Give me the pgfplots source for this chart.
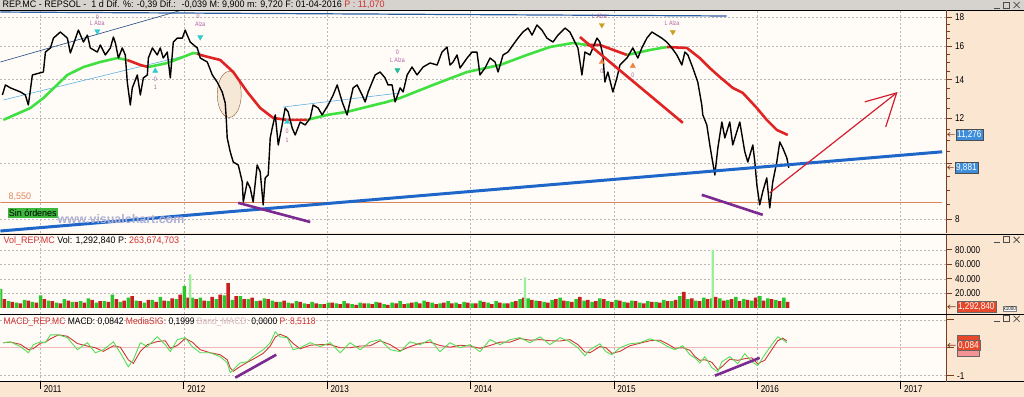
\documentclass[border=0pt]{standalone}
\usepackage{pgfplots}
\pgfplotsset{compat=1.18}
\usepackage{pgfplotstable}
\usetikzlibrary{arrows.meta,shapes.geometric}
\usepackage{fontspec}
\setmainfont{Liberation Sans}
\newfontfamily\cf[FakeStretch=0.82]{Liberation Sans}
\newfontfamily\hf[FakeStretch=0.95]{Liberation Sans}
\newfontfamily\mf[FakeStretch=0.9]{Liberation Sans}
\definecolor{peach}{HTML}{FBE6D2}
\definecolor{plotbg}{HTML}{FFFCF8}
\definecolor{hdr}{HTML}{D6D3CE}
\definecolor{axbrown}{HTML}{7A3B1E}
\definecolor{maG}{HTML}{3FE03F}
\definecolor{maR}{HTML}{E02424}
\definecolor{arR}{HTML}{D41E30}
\definecolor{supblue}{HTML}{1F66C9}
\definecolor{purp}{HTML}{7A2A90}
\definecolor{salmon}{HTML}{E0845A}
\definecolor{gridc}{HTML}{B8B8B8}
\definecolor{volG}{HTML}{2BC62B}
\definecolor{volR}{HTML}{C81E1E}
\definecolor{volL}{HTML}{9AF09A}
\definecolor{lblue}{HTML}{3E8EDB}
\definecolor{lred}{HTML}{E8482A}
\definecolor{txtr}{HTML}{D03030}
\definecolor{bandc}{HTML}{D8B8B8}
\definecolor{mauve}{HTML}{B060A0}
\definecolor{cyanm}{HTML}{33CCCC}
\definecolor{tealm}{HTML}{22BB99}
\definecolor{dyel}{HTML}{C8A020}
\definecolor{orm}{HTML}{F08040}
\definecolor{topl}{HTML}{2A5CA0}
\definecolor{thinb}{HTML}{60B0E0}
\definecolor{pinkl}{HTML}{F0B8B8}
\definecolor{ellf}{HTML}{F6E8D6}
\definecolor{wmark}{HTML}{AEB0D4}
\definecolor{macdG}{HTML}{55DD55}
\definecolor{sinG}{HTML}{3DB83D}

\pgfplotstableread{
t p
2010.735 13.17
2010.756 13.71
2010.791 13.55
2010.826 13.44
2010.861 13.33
2010.895 13.17
2010.916 12.65
2010.944 14.27
2011.021 14.44
2011.035 15.64
2011.070 15.90
2011.091 16.54
2011.139 16.95
2011.188 16.54
2011.209 15.58
2011.265 17.08
2011.300 16.28
2011.328 16.74
2011.348 15.90
2011.397 15.64
2011.418 16.09
2011.453 15.46
2011.488 15.90
2011.509 16.61
2011.523 16.22
2011.544 15.27
2011.571 15.90
2011.592 15.46
2011.606 13.87
2011.627 12.65
2011.641 13.55
2011.676 14.27
2011.697 13.17
2011.718 14.10
2011.746 14.27
2011.753 15.27
2011.781 15.90
2011.815 15.46
2011.836 15.90
2011.857 15.27
2011.885 15.64
2011.906 14.10
2011.927 16.28
2011.955 16.54
2011.990 16.54
2012.010 17.08
2012.024 16.74
2012.045 16.28
2012.094 15.90
2012.115 15.27
2012.164 15.03
2012.199 14.27
2012.233 13.87
2012.268 13.33
2012.289 12.76
2012.296 12.01
2012.303 11.09
2012.324 10.49
2012.345 10.07
2012.380 9.95
2012.408 9.30
2012.415 8.58
2012.443 9.30
2012.463 9.08
2012.484 8.58
2012.512 9.95
2012.533 9.68
2012.554 8.48
2012.568 9.45
2012.589 9.56
2012.603 11.09
2012.617 11.54
2012.638 12.16
2012.659 10.78
2012.686 11.68
2012.707 12.50
2012.728 12.31
2012.756 11.54
2012.777 11.22
2012.812 11.82
2012.847 11.68
2012.882 12.01
2012.902 12.65
2012.937 12.50
2012.965 12.16
2013.007 12.65
2013.042 13.17
2013.070 13.71
2013.105 12.81
2013.139 12.16
2013.181 13.55
2013.209 13.71
2013.244 13.17
2013.265 12.81
2013.286 13.33
2013.314 13.87
2013.335 14.27
2013.369 14.44
2013.404 14.10
2013.425 13.71
2013.453 13.71
2013.474 12.81
2013.509 13.55
2013.530 13.33
2013.558 14.27
2013.592 14.73
2013.627 14.27
2013.669 14.73
2013.718 14.97
2013.767 14.85
2013.801 15.64
2013.836 15.96
2013.857 14.85
2013.878 15.03
2013.906 15.46
2013.927 14.67
2013.976 15.27
2014.011 15.64
2014.045 15.64
2014.066 14.27
2014.101 14.67
2014.136 15.27
2014.171 15.03
2014.192 14.44
2014.227 15.46
2014.261 15.64
2014.296 16.09
2014.331 16.54
2014.366 16.95
2014.401 17.22
2014.429 16.74
2014.463 17.43
2014.498 17.08
2014.533 16.54
2014.575 16.28
2014.610 16.74
2014.659 17.22
2014.693 16.95
2014.714 16.54
2014.749 15.90
2014.777 14.27
2014.798 15.64
2014.833 15.46
2014.882 16.54
2014.902 16.28
2014.923 15.46
2014.937 13.87
2014.958 14.44
2014.993 13.33
2015.021 14.10
2015.042 14.85
2015.091 15.27
2015.132 15.90
2015.167 15.27
2015.195 15.90
2015.230 16.54
2015.265 16.95
2015.300 16.74
2015.334 16.54
2015.369 16.28
2015.404 15.90
2015.439 15.46
2015.474 14.85
2015.495 15.64
2015.516 15.46
2015.551 14.67
2015.585 13.87
2015.613 12.65
2015.620 12.16
2015.648 11.68
2015.669 10.78
2015.704 9.56
2015.725 10.65
2015.753 11.82
2015.774 11.09
2015.808 11.82
2015.829 10.78
2015.878 11.82
2015.913 10.49
2015.934 10.07
2015.969 10.78
2015.983 10.07
2015.997 9.19
2016.017 8.48
2016.038 8.94
2016.066 9.45
2016.087 8.38
2016.108 9.30
2016.136 10.07
2016.157 10.91
2016.178 10.65
2016.206 10.24
2016.220 9.84
}\price

\pgfplotstableread{
t g r
2010.735 26000 12000
2010.791 9000 8000
2010.847 7000 6000
2010.903 11000 10000
2010.958 8000 7000
2011.014 17000 12000
2011.070 10000 9000
2011.126 7000 6000
2011.181 12000 10000
2011.237 8000 8000
2011.293 9000 7000
2011.348 13000 11000
2011.404 7000 9000
2011.460 9000 8000
2011.516 18000 12000
2011.571 8000 10000
2011.627 14000 16000
2011.683 10000 9000
2011.739 7000 11000
2011.794 11000 8000
2011.850 15000 10000
2011.906 9000 13000
2011.962 12000 18000
2012.017 30000 14000
2012.073 14000 12000
2012.129 14000 10000
2012.185 9000 15000
2012.240 12000 18000
2012.296 17000 34000
2012.352 11000 16000
2012.408 16000 12000
2012.463 12000 14000
2012.519 9000 10000
2012.575 13000 12000
2012.631 10000 8000
2012.686 8000 10000
2012.742 7000 6000
2012.798 9000 8000
2012.854 6000 5000
2012.909 8000 6000
2012.965 5000 5000
2013.021 7000 7000
2013.077 6000 5000
2013.132 9000 6000
2013.188 5000 4000
2013.244 7000 6000
2013.300 6000 5000
2013.355 8000 7000
2013.411 5000 4000
2013.467 7000 6000
2013.523 9000 5000
2013.578 6000 7000
2013.634 8000 6000
2013.690 10000 8000
2013.746 7000 5000
2013.801 6000 7000
2013.857 9000 6000
2013.913 7000 5000
2013.969 8000 7000
2014.024 6000 6000
2014.080 10000 8000
2014.136 7000 5000
2014.192 9000 7000
2014.247 6000 6000
2014.303 8000 9000
2014.359 12000 14000
2014.415 13000 11000
2014.470 10000 9000
2014.526 8000 7000
2014.582 11000 12000
2014.638 14000 10000
2014.693 9000 8000
2014.749 12000 15000
2014.805 10000 11000
2014.861 8000 9000
2014.916 13000 12000
2014.972 9000 8000
2015.028 11000 10000
2015.084 8000 7000
2015.139 10000 9000
2015.195 7000 6000
2015.251 9000 8000
2015.307 8000 7000
2015.362 11000 9000
2015.418 9000 11000
2015.474 16000 22000
2015.530 12000 13000
2015.585 10000 9000
2015.641 14000 12000
2015.697 13000 15000
2015.753 13000 10000
2015.808 11000 12000
2015.864 15000 9000
2015.920 12000 11000
2015.976 10000 14000
2016.031 16000 10000
2016.087 13000 12000
2016.143 11000 9000
2016.199 14000 8000
}\vol

\pgfplotstableread{
t m s
2010.742 0.18 0.18
2010.791 0.21 0.20
2010.861 0.04 0.12
2010.916 -0.18 -0.07
2010.951 0.11 -0.03
2011.000 0.21 0.16
2011.035 0.18 0.20
2011.070 0.46 0.32
2011.125 0.46 0.46
2011.188 0.36 0.41
2011.258 -0.07 0.15
2011.328 0.18 0.06
2011.383 -0.18 0.00
2011.439 -0.07 -0.13
2011.509 0.21 0.07
2011.557 -0.18 0.02
2011.613 -0.68 -0.43
2011.648 -0.43 -0.56
2011.697 0.18 -0.13
2011.746 0.04 0.11
2011.815 0.39 0.22
2011.871 0.11 0.25
2011.906 -0.14 -0.02
2011.955 0.29 0.08
2012.010 0.36 0.33
2012.059 0.04 0.20
2012.115 -0.18 -0.07
2012.185 -0.18 -0.18
2012.254 -0.32 -0.25
2012.303 -0.54 -0.43
2012.324 -0.89 -0.72
2012.345 -0.79 -0.84
2012.394 -0.54 -0.67
2012.443 -0.50 -0.52
2012.484 -0.32 -0.41
2012.554 -0.07 -0.20
2012.603 0.18 0.06
2012.638 0.57 0.38
2012.672 0.39 0.48
2012.721 0.36 0.38
2012.763 -0.07 0.15
2012.812 0.00 -0.04
2012.882 0.18 0.09
2012.951 0.04 0.11
2013.021 0.18 0.11
2013.091 -0.18 0.00
2013.160 0.18 0.00
2013.230 -0.07 0.06
2013.300 0.21 0.07
2013.369 0.29 0.25
2013.439 -0.07 0.11
2013.509 -0.14 -0.11
2013.578 0.21 0.04
2013.648 0.11 0.16
2013.718 0.29 0.20
2013.787 -0.14 0.08
2013.857 0.18 0.02
2013.927 0.00 0.09
2013.997 0.11 0.06
2014.066 -0.14 -0.02
2014.136 0.29 0.08
2014.206 0.11 0.20
2014.275 0.29 0.20
2014.345 0.36 0.33
2014.415 0.18 0.27
2014.484 0.39 0.29
2014.554 0.11 0.25
2014.624 0.36 0.24
2014.693 0.21 0.29
2014.749 0.00 0.11
2014.798 -0.29 -0.15
2014.833 -0.07 -0.18
2014.902 0.14 0.04
2014.944 -0.14 0.00
2014.986 -0.25 -0.20
2015.042 0.00 -0.13
2015.111 0.14 0.07
2015.181 0.18 0.16
2015.251 0.32 0.25
2015.321 0.21 0.27
2015.376 0.04 0.13
2015.425 -0.07 -0.02
2015.481 0.07 0.00
2015.530 -0.25 -0.09
2015.564 -0.36 -0.31
2015.599 -0.54 -0.45
2015.634 -0.32 -0.43
2015.683 -0.71 -0.52
2015.725 -0.86 -0.79
2015.753 -0.50 -0.68
2015.808 -0.32 -0.41
2015.864 -0.57 -0.45
2015.913 -0.21 -0.39
2015.962 -0.50 -0.36
2016.003 -0.64 -0.57
2016.052 -0.25 -0.45
2016.101 0.11 -0.07
2016.143 0.39 0.25
2016.178 0.29 0.34
2016.206 0.18 0.24
}\macd

\pgfplotsset{
 panel/.style={
  scale only axis, width=947bp,
  xmin=2010.721, xmax=2017.321,
  axis line style={draw=none},
  xtick={2011,2012,2013,2014,2015,2016,2017}, xticklabels={},
  tick align=outside,
  xtick style={draw=none},
  ytick pos=right, yticklabel pos=right,
  ytick style={draw=axbrown, line width=0.6bp},
  major tick length=5bp, minor tick length=3bp,
  grid=major,
  major grid style={draw=gridc, dash pattern=on 2bp off 2bp, line width=0.5bp},
  yticklabel style={font=\cf\fontsize{10}{10}\selectfont, anchor=west, text=black},
  scaled y ticks=false,
 }
}

\begin{document}
\begin{tikzpicture}
\begin{scope}[x=1bp,y=1bp]
\fill[peach] (0,0) rectangle (1024,397);
\fill[plotbg] (0,164) rectangle (947,387);
\fill[plotbg] (0,83) rectangle (947,162);
\fill[plotbg] (0,15) rectangle (947,82);
\fill[hdr] (0,387) rectangle (1024,397);
\end{scope}

% ---------------- price panel
\begin{axis}[panel, at={(0bp,164bp)}, anchor=south west, height=223bp,
  ymode=log, ymin=7.585, ymax=18.51,
  ytick={8,10,12,14,16,18}, yticklabels={8,{},12,14,16,18},
  minor ytick={8.5,9,9.5,10.5,11,11.5,12.5,13,13.5,14.5,15,15.5,16.5,17,17.5}]
\addplot[salmon, line width=0.8bp] coordinates {(2010.721,8.55)(2017.29,8.55)};
\addplot[topl, line width=1.2bp] coordinates {(2010.721,18.36)(2015.787,18.07)};
\addplot[topl!80!black, line width=0.6bp] coordinates {(2010.721,15.03)(2011.990,18.51)};
\addplot[thinb, line width=0.6bp] coordinates {(2010.742,12.91)(2012.115,15.64)};
\addplot[thinb, line width=0.6bp] coordinates {(2012.693,12.55)(2013.509,13.28)};
\node[ellipse, draw=brown!70!black, line width=0.4bp, fill=ellf, minimum width=24bp, minimum height=46bp, inner sep=0] at (axis cs:2012.317,13.2) {};
% moving average
\addplot[maG, line width=2.6bp] coordinates {(2010.742,11.92)(2010.930,12.50)(2011.021,13.01)(2011.188,14.27)(2011.300,14.73)(2011.418,15.03)(2011.537,15.27)(2011.606,15.15)};
\addplot[maR, line width=2.6bp] coordinates {(2011.606,15.15)(2011.697,14.85)(2011.753,14.73)};
\addplot[maG, line width=2.6bp] coordinates {(2011.753,14.73)(2011.885,14.97)(2011.976,15.27)(2012.066,15.58)(2012.094,15.55)};
\addplot[maR, line width=2.6bp] coordinates {(2012.094,15.55)(2012.115,15.46)(2012.254,15.15)(2012.345,14.44)(2012.443,13.33)(2012.533,12.50)(2012.624,12.01)(2012.721,11.92)(2012.861,11.92)};
\addplot[maG, line width=2.6bp] coordinates {(2012.861,11.92)(2013.000,12.16)(2013.139,12.31)(2013.279,12.56)(2013.418,12.81)(2013.509,13.01)(2013.739,13.71)(2013.976,14.44)(2014.206,14.85)(2014.394,15.46)(2014.554,15.96)(2014.714,16.22)(2014.812,16.09)};
\addplot[maR, line width=2.6bp] coordinates {(2014.812,16.09)(2014.902,16.09)(2015.091,15.46)};
\addplot[maG, line width=2.6bp] coordinates {(2015.091,15.46)(2015.251,15.77)(2015.369,15.96)};
\addplot[maR, line width=2.6bp] coordinates {(2015.369,15.96)(2015.509,15.90)(2015.599,15.27)(2015.669,14.67)(2015.739,14.15)(2015.829,13.55)(2015.899,13.28)(2015.997,12.50)(2016.066,11.92)(2016.136,11.45)(2016.213,11.22)};
% price
\addplot[black, line width=1.4bp, line join=round] table[x=t, y=p] {\price};
% drawings
\addplot[supblue, line width=3bp] coordinates {(2010.721,7.64)(2017.29,10.49)};
\addplot[maR, line width=2.6bp] coordinates {(2014.763,16.61)(2015.481,11.78)};
\addplot[purp, line width=2.6bp] coordinates {(2012.380,8.55)(2012.882,7.92)};
\addplot[purp, line width=2.6bp] coordinates {(2015.613,8.83)(2016.038,8.15)};
\addplot[arR, line width=1.2bp] coordinates {(2016.087,8.90)(2016.972,13.28)};
\addplot[arR, line width=1.2bp] coordinates {(2016.749,12.81)(2016.972,13.28)(2016.896,11.59)};
% signals
\addplot[only marks, mark=triangle*, mark size=3bp, color=cyanm, mark options={rotate=180}] coordinates {(2011.397,17.0)(2012.115,16.6)};
\addplot[only marks, mark=triangle*, mark size=3bp, color=tealm, mark options={rotate=180}] coordinates {(2013.49,14.55)};
\addplot[only marks, mark=triangle*, mark size=3bp, color=cyanm] coordinates {(2011.801,14.5)(2012.721,11.82)};
\addplot[only marks, mark=triangle*, mark size=3bp, color=dyel, mark options={rotate=180}] coordinates {(2014.916,17.43)(2015.411,16.95)};
\addplot[only marks, mark=triangle*, mark size=3bp, color=orm] coordinates {(2014.916,15.03)(2015.132,14.79)};
\node[font=\cf\fontsize{6.5}{7}\selectfont, text=mauve, inner sep=0] at (axis cs:2011.397,18.0) {0};
\node[font=\cf\fontsize{6.5}{7}\selectfont, text=mauve, inner sep=0] at (axis cs:2011.397,17.55) {L Alza};
\node[font=\cf\fontsize{6.5}{7}\selectfont, text=mauve, inner sep=0] at (axis cs:2012.10,18.05) {0};
\node[font=\cf\fontsize{6.5}{7}\selectfont, text=mauve, inner sep=0] at (axis cs:2012.115,17.5) {Alza};
\node[font=\cf\fontsize{6.5}{7}\selectfont, text=mauve, inner sep=0] at (axis cs:2013.49,15.64) {0};
\node[font=\cf\fontsize{6.5}{7}\selectfont, text=mauve, inner sep=0] at (axis cs:2013.49,15.15) {L Alza};
\node[font=\cf\fontsize{6.5}{7}\selectfont, text=mauve, inner sep=0] at (axis cs:2011.801,14.0) {0};
\node[font=\cf\fontsize{6.5}{7}\selectfont, text=mauve, inner sep=0] at (axis cs:2011.801,13.6) {1};
\node[font=\cf\fontsize{6.5}{7}\selectfont, text=mauve, inner sep=0] at (axis cs:2012.721,11.4) {0};
\node[font=\cf\fontsize{6.5}{7}\selectfont, text=mauve, inner sep=0] at (axis cs:2012.721,11.0) {1};
\node[font=\cf\fontsize{6.5}{7}\selectfont, text=mauve, inner sep=0] at (axis cs:2014.90,18.05) {L Alza};
\node[font=\cf\fontsize{6.5}{7}\selectfont, text=mauve, inner sep=0] at (axis cs:2015.405,17.55) {L Alza};
\node[font=\cf\fontsize{6.5}{7}\selectfont, text=mauve, inner sep=0] at (axis cs:2014.916,14.5) {0};
\node[font=\cf\fontsize{6.5}{7}\selectfont, text=mauve, inner sep=0] at (axis cs:2015.132,14.27) {0};
\end{axis}

% ---------------- volume panel
\begin{axis}[panel, at={(0bp,83bp)}, anchor=south west, height=78bp,
  ymin=-8274, ymax=99288,
  ytick={20000,40000,60000,80000}, yticklabels={20.000,40.000,60.000,80.000}]
\addplot[ybar, bar width=3.5bp, bar shift=-1.9bp, fill=volG, draw=none] table[x=t, y=g] {\vol};
\addplot[ybar, bar width=3.5bp, bar shift=1.9bp, fill=volR, draw=none] table[x=t, y=r] {\vol};
\addplot[ybar, bar width=2.2bp, bar shift=0bp, fill=volL, draw=none] coordinates {(2012.045,46000)(2014.380,42000)(2015.690,80000)};
\end{axis}

% ---------------- MACD panel
\begin{axis}[panel, at={(0bp,15bp)}, anchor=south west, height=67bp,
  ymin=-1.2143, ymax=1.1786,
  ytick={-1,0,1}, yticklabels={-1,{},{}},
  xtick pos=left,
  xtick style={draw=black, line width=0.6bp},
  major tick length=7bp,
  xticklabels={2011,2012,2013,2014,2015,2016,2017},
  xticklabel style={font=\cf\fontsize{10}{10}\selectfont, anchor=north west, xshift=0bp, yshift=7bp}]
\addplot[pinkl, line width=0.8bp] coordinates {(2010.721,0)(2017.321,0)};
\addplot[volR!90!white, line width=0.9bp] table[x=t, y=s] {\macd};
\addplot[macdG, line width=0.9bp] table[x=t, y=m] {\macd};
\addplot[purp, line width=2.6bp] coordinates {(2012.359,-1.07)(2012.645,-0.25)};
\addplot[purp, line width=2.6bp] coordinates {(2015.704,-1.0)(2016.017,-0.36)};
\end{axis}

\begin{scope}[x=1bp,y=1bp]
% ---------------- frames and chrome
\draw[black, line width=0.8bp] (0,387) -- (1024,387);
\draw[black, line width=0.8bp] (0,162.5) -- (1024,162.5);
\draw[black, line width=0.8bp] (0,82.5) -- (1024,82.5);
\draw[black, line width=0.8bp] (0,15) -- (1024,15);
\draw[axbrown, line width=0.7bp] (947,164) -- (947,387);
\draw[axbrown, line width=0.7bp] (947,83) -- (947,162);
\draw[axbrown, line width=0.7bp] (947,15) -- (947,82);

% headers
\node[anchor=west, inner sep=0, font=\hf\fontsize{9.5}{10}\selectfont] at (2,392)
 {REP.MC - REPSOL - \ 1 d Dif. \%: -0,39 Dif.: \ -0,039 M: 9,900 m: 9,720 F: 01-04-2016 \textcolor{txtr}{P : 11,070}};
\node[anchor=west, inner sep=0, font=\hf\fontsize{9.5}{10}\selectfont] at (3,156)
 {\textcolor{txtr}{Vol\_REP.MC} Vol: 1,292,840 P: \textcolor{txtr}{263,674,703}};
\node[anchor=west, inner sep=0, font=\mf\fontsize{9.5}{10}\selectfont] at (3,75)
 {\textcolor{txtr}{MACD\_REP.MC} MACD: 0,0842 \textcolor{txtr}{MediaSIG:} 0,1999 \textcolor{bandc}{Band\_MACD:} 0,0000 \textcolor{txtr}{P: 8,5118}};

% overlay labels on price panel
\node[anchor=west, inner sep=0, font=\hf\fontsize{9.5}{10}\selectfont, text=salmon] at (8,200) {8,550};
\node[anchor=west, fill=sinG, inner sep=1.2bp, font=\hf\fontsize{9.5}{10}\selectfont] at (7,184) {Sin órdenes};
\node[anchor=west, inner sep=0, font=\bfseries\fontsize{12.5}{12.5}\selectfont, text=wmark] at (57,177.5) {www.visualchart.com};

% right value boxes
\node[anchor=west, fill=lblue, draw=black!70, text=white, inner sep=1.3bp, font=\cf\fontsize{10}{10}\selectfont] at (956,262.5) {11,276};
\node[anchor=west, fill=lblue, draw=black!70, text=white, inner sep=1.3bp, font=\cf\fontsize{10}{10}\selectfont] at (955,229.5) {9,881};
\draw[axbrown, line width=0.6bp] (955,262.5) -- (948,262.5) (950.5,264.5) -- (948,262.5) -- (950.5,260.5);
\draw[axbrown, line width=0.6bp] (954,229.5) -- (948,229.5) (950.5,231.5) -- (948,229.5) -- (950.5,227.5);
\node[anchor=west, fill=lred, draw=black!60, text=white, inner sep=1.3bp, font=\cf\fontsize{10}{10}\selectfont] at (957,90) {1,292,840};
\node[anchor=west, fill=white, draw=black!50, inner sep=0.8bp, font=\cf\fontsize{5.5}{6}\selectfont] at (1003,88) {x1000};
\draw[axbrown, line width=0.6bp] (956,90) -- (948,90) (950.5,92) -- (948,90) -- (950.5,88);
\node[anchor=west, fill=lred, draw=black!60, inner sep=1.3bp, minimum width=22bp, minimum height=9bp] at (957,57) {};
\node[anchor=west, fill=pinkl!80!red, draw=black!60, inner sep=1.3bp, minimum width=22bp, minimum height=9bp] at (957,45) {};
\node[anchor=west, fill=lred, draw=black!60, text=white, inner sep=1.3bp, font=\cf\fontsize{10}{10}\selectfont] at (957,51.5) {0,084};
\draw[axbrown, line width=0.6bp] (956,51.5) -- (948,51.5) (950.5,53.5) -- (948,51.5) -- (950.5,49.5);

% window controls
\foreach \yy in {392,157,78}{
  \draw[black!70, line width=0.8bp] (994,\yy-3) -- (1000,\yy-3);
  \draw[black!70, line width=0.7bp] (1004,\yy-3) rectangle (1010,\yy+3);
  \draw[black!70, line width=0.8bp] (1014,\yy-3) -- (1020,\yy+3) (1014,\yy+3) -- (1020,\yy-3);
}
\end{scope}
\end{tikzpicture}
\end{document}
